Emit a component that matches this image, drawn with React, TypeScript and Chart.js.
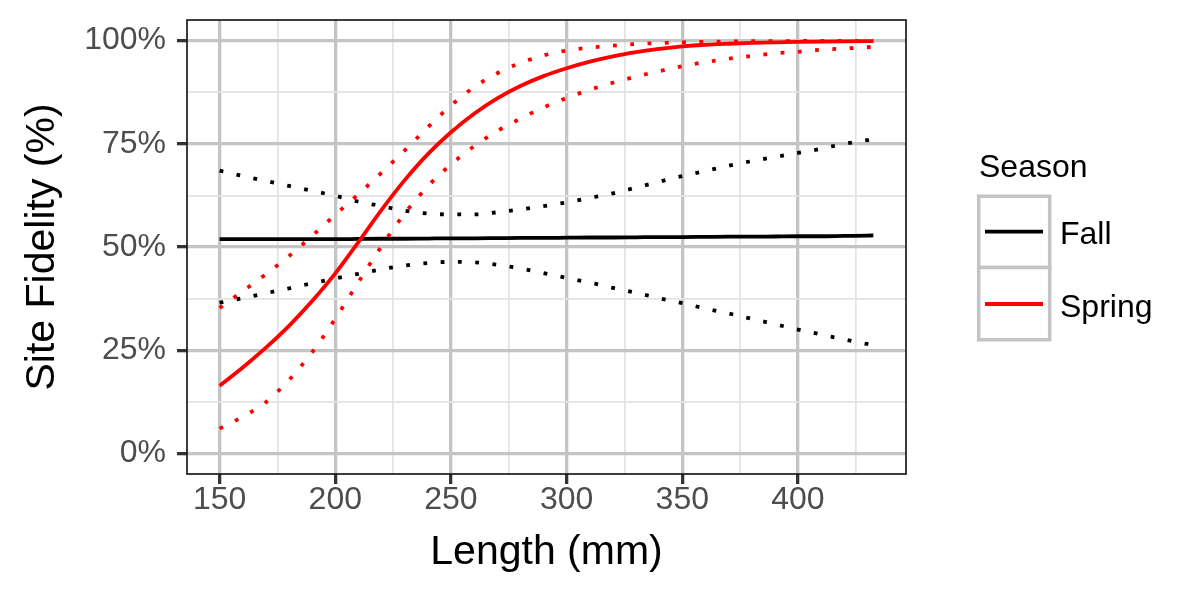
import React, { useEffect, useRef } from 'react';
import { Chart, registerables } from 'chart.js';

Chart.register(...registerables);

// Length (mm) at which the fitted curves were read
const lengths = [150, 160, 170, 180, 190, 200, 210, 220, 230, 240, 250, 260, 270, 280, 290, 300, 310, 320, 330, 340, 350, 360, 370, 380, 390, 400, 410, 420, 430, 432.6];

// Site fidelity (%) — Fall
const fallFit = [51.9, 51.9, 51.9, 51.9, 51.9, 51.9, 51.95, 52.0, 52.0, 52.05, 52.1, 52.1, 52.15, 52.2, 52.2, 52.25, 52.3, 52.3, 52.35, 52.4, 52.4, 52.45, 52.5, 52.5, 52.55, 52.6, 52.6, 52.7, 52.75, 52.8];
const fallUpper = [68.5, 67.2, 66.0, 64.8, 63.6, 62.4, 61.0, 59.9, 58.8, 58.1, 57.9, 57.9, 58.4, 59.1, 59.9, 60.8, 61.9, 63.0, 64.4, 65.8, 67.2, 68.4, 69.7, 70.8, 71.8, 72.8, 73.8, 75.0, 75.9, 76.2];
const fallLower = [36.5, 37.6, 38.8, 40.0, 41.2, 42.4, 43.5, 44.6, 45.5, 46.1, 46.4, 46.3, 45.7, 44.8, 43.7, 42.5, 41.4, 40.1, 38.9, 37.6, 36.4, 35.1, 33.9, 32.6, 31.3, 30.0, 28.8, 27.6, 26.5, 26.3];

// Site fidelity (%) — Spring
const springFit = [16.4, 20.8, 25.6, 30.9, 36.9, 43.6, 51.2, 59.0, 66.2, 72.5, 77.8, 82.3, 86.0, 89.0, 91.4, 93.3, 94.9, 96.2, 97.2, 98.0, 98.6, 99.0, 99.25, 99.45, 99.6, 99.7, 99.78, 99.83, 99.87, 99.88];
const springUpper = [35.2, 39.3, 43.4, 47.8, 52.7, 57.8, 62.8, 68.0, 73.4, 79.0, 84.3, 88.7, 92.1, 94.6, 96.4, 97.6, 98.3, 98.8, 99.2, 99.4, 99.6, 99.7, 99.8, 99.85, 99.9, 99.9, 99.95, 99.95, 99.97, 99.97];
const springLower = [6.0, 8.9, 12.4, 17.8, 24.5, 32.6, 41.5, 50.2, 58.1, 64.7, 70.0, 74.4, 78.1, 81.1, 83.8, 86.1, 88.1, 89.8, 91.3, 92.6, 93.8, 94.8, 95.6, 96.3, 96.9, 97.3, 97.8, 98.1, 98.4, 98.5];

// Axis ticks
const xMajor = [150, 200, 250, 300, 350, 400];
const xMinor = [175, 225, 275, 325, 375, 425];
const yMajor = [0, 25, 50, 75, 100];
const yMinor = [12.5, 37.5, 62.5, 87.5];

const seasons = ['Fall', 'Spring'];
const seasonColors = ['#000000', '#FF0000'];

const FONT = "'Liberation Sans', Arial, Helvetica, sans-serif";
const SMALL = 32;
const BIG = 41;

export default function App() {
  const ref = useRef<HTMLCanvasElement>(null);

  useEffect(() => {
    document.body.style.margin = '0';
    const canvas = ref.current;
    if (!canvas) return;

    const pts = (ys: number[]) => lengths.map((x, i) => ({ x, y: ys[i] }));
    const W = 3.8;
    const dotted = [3.8, 13.5];

    const mk = (label: string, ys: number[], color: string, dash: number[], order: number) => ({
      label,
      data: pts(ys),
      borderColor: color,
      backgroundColor: color,
      borderWidth: W,
      borderDash: dash,
      borderCapStyle: 'butt' as const,
      pointRadius: 0,
      pointHoverRadius: 0,
      fill: false,
      cubicInterpolationMode: 'monotone' as const,
      order,
    });

    const panelBorder = {
      id: 'panelBorder',
      afterDatasetsDraw(chart: any) {
        const { ctx, chartArea: a } = chart;
        ctx.save();
        ctx.strokeStyle = '#1a1a1a';
        ctx.lineWidth = 1.7;
        ctx.strokeRect(a.left, a.top, a.right - a.left, a.bottom - a.top);
        ctx.restore();
      },
    };

    const seasonLegend = {
      id: 'seasonLegend',
      afterDraw(chart: any) {
        const ctx = chart.ctx as CanvasRenderingContext2D;
        ctx.save();
        ctx.font = `${SMALL}px ${FONT}`;
        ctx.fillStyle = '#000';
        ctx.textAlign = 'left';
        ctx.textBaseline = 'alphabetic';
        ctx.fillText('Season', 979, 177);
        const cells = [
          { y: 196.3, h: 71.2, lineY: 231.7, textY: 244.3 },
          { y: 267.5, h: 72.2, lineY: 304, textY: 316.7 },
        ];
        cells.forEach((c, i) => {
          ctx.fillStyle = '#fff';
          ctx.fillRect(978.7, c.y, 71, c.h);
          ctx.strokeStyle = '#C4C4C4';
          ctx.lineWidth = 3.5;
          ctx.strokeRect(978.7, c.y, 71, c.h);
          ctx.strokeStyle = seasonColors[i];
          ctx.lineWidth = W;
          ctx.beginPath();
          ctx.moveTo(985, c.lineY);
          ctx.lineTo(1043, c.lineY);
          ctx.stroke();
          ctx.fillStyle = '#000';
          ctx.fillText(seasons[i], 1060, c.textY);
        });
        ctx.restore();
      },
    };

    const isMajor = (v: number, majors: number[]) => majors.includes(v);

    const chart = new Chart(canvas, {
      type: 'line',
      data: {
        datasets: [
          mk('Fall', fallFit, seasonColors[0], [], 3),
          mk('Fall lower', fallLower, seasonColors[0], dotted, 3),
          mk('Fall upper', fallUpper, seasonColors[0], dotted, 3),
          mk('Spring', springFit, seasonColors[1], [], 1),
          mk('Spring lower', springLower, seasonColors[1], dotted, 1),
          mk('Spring upper', springUpper, seasonColors[1], dotted, 1),
        ],
      },
      options: {
        responsive: false,
        animation: false,
        devicePixelRatio: 1,
        layout: { padding: { top: 20, right: 293, left: 0, bottom: 0 } },
        plugins: {
          legend: { display: false },
          tooltip: { enabled: false },
          title: { display: false },
        },
        events: [],
        scales: {
          x: {
            type: 'linear',
            min: 135.9,
            max: 446.7,
            afterBuildTicks: (scale: any) => {
              scale.ticks = [...xMajor, ...xMinor].sort((a, b) => a - b).map((v) => ({ value: v }));
            },
            afterFit: (scale: any) => {
              scale.height = 125;
              scale.paddingLeft = 0;
              scale.paddingRight = 0;
            },
            ticks: {
              autoSkip: false,
              maxRotation: 0,
              padding: 0,
              color: '#4D4D4D',
              font: { family: FONT, size: SMALL, lineHeight: 1.0 },
              callback: (v: any) => (isMajor(Number(v), xMajor) ? String(v) : ''),
            },
            grid: {
              color: (c: any) => (isMajor(c.tick?.value, xMajor) ? '#C4C4C4' : '#E3E3E3'),
              lineWidth: (c: any) => (isMajor(c.tick?.value, xMajor) ? 3.3 : 1.7),
              tickColor: (c: any) => (isMajor(c.tick?.value, xMajor) ? '#333333' : 'rgba(0,0,0,0)'),
              tickWidth: 3.3,
              tickLength: 10,
              drawTicks: true,
            },
            border: { display: false },
            title: {
              display: true,
              text: 'Length (mm)',
              color: '#000',
              font: { family: FONT, size: BIG, lineHeight: 1.2 },
              padding: { top: 0, bottom: 22 },
            },
          },
          y: {
            type: 'linear',
            min: -5,
            max: 105,
            afterBuildTicks: (scale: any) => {
              scale.ticks = [...yMajor, ...yMinor].sort((a, b) => a - b).map((v) => ({ value: v }));
            },
            afterFit: (scale: any) => {
              scale.width = 187;
              scale.paddingTop = 0;
              scale.paddingBottom = 0;
            },
            ticks: {
              autoSkip: false,
              padding: 11,
              color: '#4D4D4D',
              font: { family: FONT, size: SMALL, lineHeight: 1.0 },
              callback: (v: any) => (isMajor(Number(v), yMajor) ? `${v}%` : ''),
            },
            grid: {
              color: (c: any) => (isMajor(c.tick?.value, yMajor) ? '#C4C4C4' : '#E3E3E3'),
              lineWidth: (c: any) => (isMajor(c.tick?.value, yMajor) ? 3.3 : 1.7),
              tickColor: (c: any) => (isMajor(c.tick?.value, yMajor) ? '#333333' : 'rgba(0,0,0,0)'),
              tickWidth: 3.3,
              tickLength: 10,
              drawTicks: true,
            },
            border: { display: false },
            title: {
              display: true,
              text: 'Site Fidelity (%)',
              color: '#000',
              font: { family: FONT, size: BIG, lineHeight: 1.2 },
              padding: { top: 18, bottom: 0 },
            },
          },
        },
      },
      plugins: [panelBorder, seasonLegend],
    } as any);

    return () => chart.destroy();
  }, []);

  return (
    <div style={{ position: 'absolute', left: 0, top: 0, width: 1199, height: 599, background: '#fff' }}>
      <canvas ref={ref} width={1199} height={599} style={{ display: 'block', width: 1199, height: 599 }} />
    </div>
  );
}
